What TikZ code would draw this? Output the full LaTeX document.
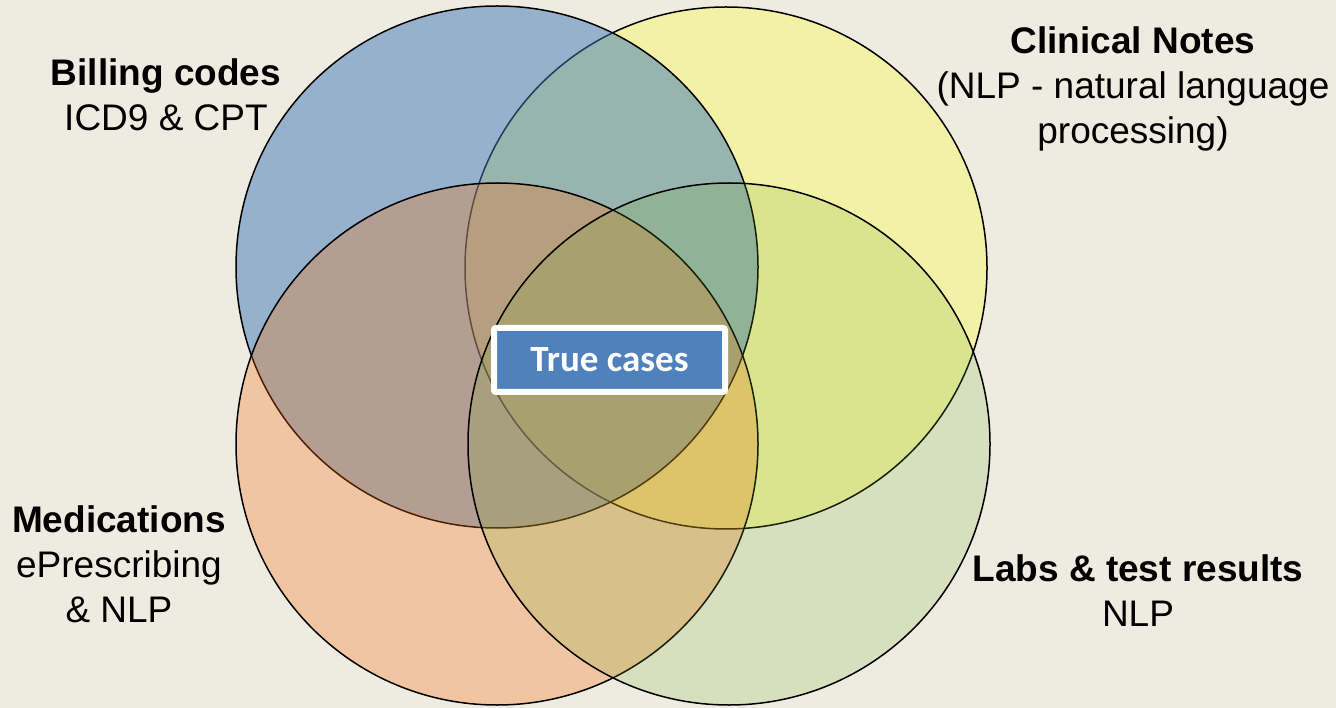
\documentclass[tikz,border=0pt]{standalone}
\usepackage{fontspec}
\setmainfont{Liberation Sans}
\newfontfamily\boxfont{Carlito}
\usetikzlibrary{shadows}
\definecolor{bgcol}{RGB}{238,235,224}
\definecolor{billcol}{RGB}{64,121,184}
\definecolor{notecol}{RGB}{242,241,166}
\definecolor{medcol}{RGB}{251,112,17}
\definecolor{labcol}{RGB}{117,172,45}
\definecolor{truecol}{RGB}{79,129,189}
\tikzstyle{set} = [circle, minimum size=522pt, inner sep=0pt, draw=black, line width=1.5pt]
\tikzstyle{label} = [align=center, anchor=base, font=\fontsize{37}{45}\selectfont]
\tikzstyle{result} = [rectangle, fill=truecol, draw=white, line width=6pt, rounded corners=2pt, minimum width=231pt, minimum height=64pt, text=white, font=\boxfont\bfseries\fontsize{37}{40}\selectfont, drop shadow={shadow xshift=1.5pt, shadow yshift=-2pt, opacity=0.35}]

\begin{document}
\begin{tikzpicture}[x=1pt, y=-1pt]
\fill[bgcol] (0,0) rectangle (1336,708);
\useasboundingbox (0,0) rectangle (1336,708);
% the four data sources, bottom to top
\node (notes) [set, fill=notecol] at (726,268) {};
\node (billing) [set, fill=billcol, fill opacity=0.5] at (497,267) {};
\node (meds) [set, fill=medcol, fill opacity=0.3] at (497,444) {};
\node (labs) [set, fill=labcol, fill opacity=0.19] at (729,444) {};

% overlap in the middle
\node (truecases) [result] at (609.5,360) {True cases};

% source labels (anchored at last baseline)
\node (billingLabel) [label] at (166,131) {\textbf{Billing codes}\\ICD9 \& CPT};
\node (notesLabel) [label] at (1133,144) {\textbf{Clinical Notes}\\(NLP - natural language\\processing)};
\node (medsLabel) [label] at (119,622) {\textbf{Medications}\\ePrescribing\\\& NLP};
\node (labsLabel) [label] at (1138,626) {\textbf{Labs \& test results}\\NLP};
\end{tikzpicture}
\end{document}
